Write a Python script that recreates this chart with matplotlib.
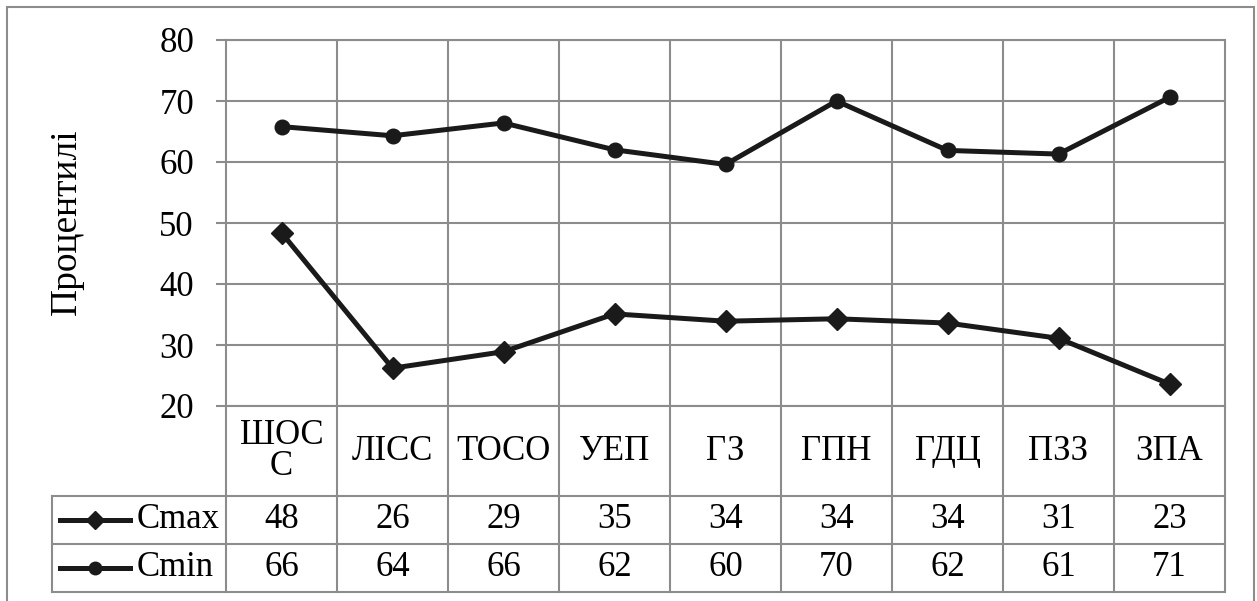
import matplotlib
matplotlib.use("Agg")
import matplotlib.pyplot as plt
from matplotlib.lines import Line2D
from matplotlib.patches import Rectangle
import matplotlib.transforms as mtransforms

# data
categories = ["ШОС\nС", "ЛІСС", "ТОСО", "УЕП", "ГЗ", "ГПН", "ГДЦ", "ПЗЗ", "ЗПА"]
cmax = [48.4, 26.2, 28.9, 35.1, 33.9, 34.3, 33.6, 31.1, 23.6]
cmin = [65.8, 64.3, 66.4, 62.0, 59.6, 70.0, 61.9, 61.3, 70.6]
cmax_labels = ["48", "26", "29", "35", "34", "34", "34", "31", "23"]
cmin_labels = ["66", "64", "66", "62", "60", "70", "62", "61", "71"]
y_ticks = [20, 30, 40, 50, 60, 70, 80]

plt.rcParams['font.family'] = ['Liberation Serif', 'DejaVu Serif']

W, H = 1257, 601
fig = plt.figure(figsize=(W / 100, H / 100), dpi=100)

def fy(py):
    # pixel row (from top) -> figure fraction
    return 1 - py / H

grid_c = "#8c8c8c"
line_c = "#1a1a1a"
fs = 25

# plot area
left, right, top, bottom = 226, 1225, 40, 406
ax = fig.add_axes([left / W, fy(bottom), (right - left) / W, (bottom - top) / H])
x = list(range(len(categories)))
ax.plot(x, cmax, color=line_c, lw=3.6, marker="D", ms=11, zorder=3)
ax.plot(x, cmin, color=line_c, lw=3.6, marker="o", ms=10.5, zorder=3)

ax.set_xlim(-0.5, len(categories) - 0.5)
ax.set_ylim(20, 80)
ax.set_yticks(y_ticks)
ax.set_xticks([i + 0.5 for i in x[:-1]], minor=True)
ax.set_xticks([])
ax.grid(True, which="major", axis="y", color=grid_c, lw=1.5)
ax.grid(True, which="minor", axis="x", color=grid_c, lw=1.5)
ax.tick_params(axis="y", length=7, width=1.5, color=grid_c, pad=16, labelsize=fs)
ax.tick_params(axis="x", which="minor", length=0)
for s in ax.spines.values():
    s.set_color(grid_c)
    s.set_linewidth(1.5)
ax.set_ylabel("Процентилі", fontsize=27)
ax.yaxis.set_label_coords(-0.160, 0.503)
ax.yaxis.label.set_va("center")

# data table below the axes
tr = mtransforms.blended_transform_factory(ax.transData, fig.transFigure)
row_cat, row_max, row_min, row_end = 406, 496, 544, 592
x0, x1 = -0.5, len(categories) - 0.5
x_key = x0 - (left - 52) / ((right - left) / len(categories))

def hline(y, xa, xb):
    fig.add_artist(Line2D([xa, xb], [fy(y), fy(y)], transform=tr, color=grid_c, lw=1.5))

def vline(xv, ya, yb):
    fig.add_artist(Line2D([xv, xv], [fy(ya), fy(yb)], transform=tr, color=grid_c, lw=1.5))

hline(row_max, x_key, x1)
hline(row_min, x_key, x1)
hline(row_end, x_key, x1)
for i in range(len(categories) + 1):
    vline(i - 0.5, row_cat, row_end)
vline(x_key, row_max, row_end)

for i, c in enumerate(categories):
    fig.text(i, fy((row_cat + row_max) / 2), c, transform=tr, ha="center", va="center",
             fontsize=fs, linespacing=0.95)
    fig.text(i, fy((row_max + row_min) / 2), cmax_labels[i], transform=tr,
             ha="center", va="center", fontsize=fs)
    fig.text(i, fy((row_min + row_end) / 2), cmin_labels[i], transform=tr,
             ha="center", va="center", fontsize=fs)

# legend keys inside the table
for name, mk, ms, ya, yb in [("Cmax", "D", 9, row_max, row_min), ("Cmin", "o", 9, row_min, row_end)]:
    yc = fy((ya + yb) / 2)
    fig.add_artist(Line2D([60 / W, 130 / W], [yc, yc], color=line_c, lw=3.6))
    fig.add_artist(Line2D([95 / W], [yc], color=line_c, marker=mk, ms=ms, lw=0))
    fig.text(137 / W, yc, name, ha="left", va="center", fontsize=fs)

# outer chart frame
fig.add_artist(Rectangle((7 / W, -0.05), (1254 - 7) / W, fy(7) + 0.05, fill=False,
                         edgecolor=grid_c, lw=1.5, transform=fig.transFigure))

fig.savefig("out.png", dpi=100, facecolor="white")
